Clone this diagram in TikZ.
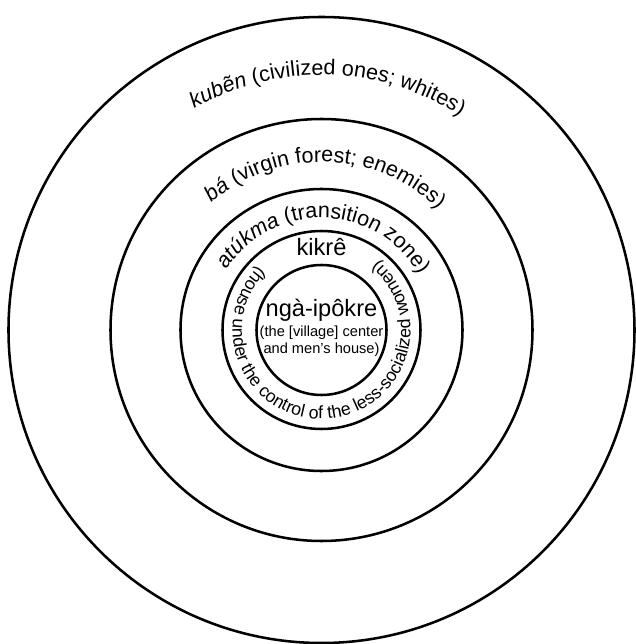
\documentclass[tikz,border=0pt]{standalone}
\usepackage{fontspec}
\setmainfont{Liberation Sans}
\usetikzlibrary{decorations.text}
\newcommand{\zonefont}{\fontsize{15.3}{18}\selectfont}
\newcommand{\ringfont}{\fontsize{12.6}{14}\selectfont}
\newcommand{\corefont}{\fontsize{16.8}{20}\selectfont}

\begin{document}
\begin{tikzpicture}[
    x=0.025cm, y=0.025cm,
    zone/.style={line width=1.8pt},
    arclabel/.style={decorate, decoration={text along path, text align=center, text={#1}}}
  ]
    \useasboundingbox (-321.5,-314) rectangle (314.5,330);
    \coordinate (o) at (0,0);
    % Zonas concéntricas, de afuera hacia adentro
    \foreach \r in {313,211,141,99,65} {
      \draw[zone] (o) circle[radius=\r];
    }
    % Rótulos curvos de las zonas exteriores
    \path[arclabel={|\zonefont\itshape|kubẽn|\zonefont\upshape| (civilized ones; whites)}]
      (178.5:255) arc[start angle=178.5, end angle=-1.5, radius=255];
    \path[arclabel={|\zonefont\itshape|bá|\zonefont\upshape| (virgin forest; enemies)}]
      (178.5:168) arc[start angle=178.5, end angle=-1.5, radius=168];
    \path[arclabel={|\zonefont\itshape|atúkma|\zonefont\upshape| (transition zone)}]
      (178.5:112) arc[start angle=178.5, end angle=-1.5, radius=112];
    % Anillo de las casas
    \node[font=\corefont, anchor=base] (kikre) at (0,74) {kikrê};
    \path[arclabel={|\ringfont|(house under the control of the less-socialized women)}]
      (92.9:89) arc[start angle=92.9, end angle=452.9, radius=89];
    % Centro de la aldea
    \node[font=\corefont, anchor=base] (ngaipokre) at (0,13) {ngà-ipôkre};
    \node[font=\fontsize{10.4}{12}\selectfont, align=center] (ngadesc) at (0,-11)
      {(the [village] center\\and men's house)};
  \end{tikzpicture}
\end{document}
